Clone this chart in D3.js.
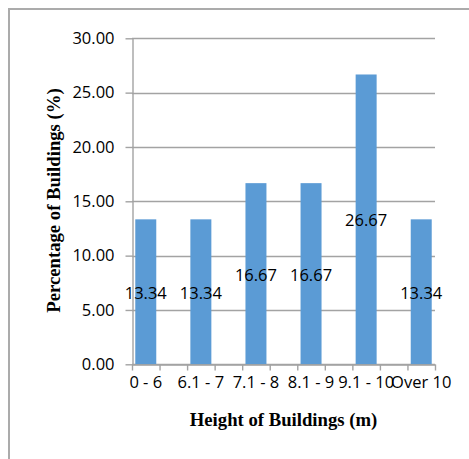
<!DOCTYPE html>
<meta charset="utf-8">
<style>
  body { margin: 0; background: #fff; }
  svg { display: block; }
</style>
<svg width="469" height="459"></svg>
<script src="https://d3js.org/d3.v7.min.js"></script>
<script>
    // values
    var categories = ["0 - 6", "6.1 - 7", "7.1 - 8", "8.1 - 9", "9.1 - 10", "Over 10"];
    var percentages = [13.34, 13.34, 16.67, 16.67, 26.67, 13.34];
    var yTicks = [0, 5, 10, 15, 20, 25, 30];

    var svg = d3.select("svg"),
        width = +svg.attr("width"),
        height = +svg.attr("height");

    var plotLeft = 132, plotRight = 435, plotTop = 38.3, plotBottom = 364.3;
    var labelFont = "'Open Sans', sans-serif";
    var titleFont = "'Liberation Serif', 'Times New Roman', serif";
    var lineGray = "#a3a3a3";

    // outer chart frame (right and bottom edges fall outside the window)
    svg.append("rect")
        .attr("x", 9).attr("y", 9)
        .attr("width", 600).attr("height", 600)
        .attr("fill", "none")
        .attr("stroke", "#ababab")
        .attr("stroke-width", 2);

    // every category has an empty slot after it, like the source sheet
    var slots = d3.range(categories.length * 2 - 1);
    var x = d3.scaleBand()
        .domain(slots)
        .range([plotLeft, plotRight])
        .paddingInner(0.238)
        .paddingOuter(0.119);
    var xTicks = d3.scaleLinear()
        .domain([0, slots.length])
        .range([plotLeft, plotRight]);
    var y = d3.scaleLinear()
        .domain([0, 30])
        .range([plotBottom, plotTop]);

    // gridlines
    svg.append("g")
        .selectAll("line")
        .data(yTicks)
        .enter().append("line")
        .attr("x1", plotLeft).attr("x2", plotRight)
        .attr("y1", function(d) { return Math.round(y(d)) + 0.5; })
        .attr("y2", function(d) { return Math.round(y(d)) + 0.5; })
        .attr("stroke", lineGray)
        .attr("stroke-width", 1.4);

    // y axis
    var yAxis = svg.append("g")
        .attr("transform", "translate(" + (plotLeft + 0.5) + ",0)")
        .call(d3.axisLeft(y)
            .tickValues(yTicks)
            .tickFormat(d3.format(".2f"))
            .tickSizeInner(7)
            .tickSizeOuter(0)
            .tickPadding(11));
    yAxis.selectAll("path, line").attr("stroke", lineGray).attr("stroke-width", 1.4);
    yAxis.selectAll("text")
        .attr("fill", "#000")
        .style("font-family", labelFont)
        .style("font-size", "16.5px");

    // bars
    svg.append("g")
        .selectAll("rect")
        .data(percentages)
        .enter().append("rect")
        .attr("x", function(d, i) { return x(i * 2); })
        .attr("y", function(d) { return y(d); })
        .attr("width", x.bandwidth())
        .attr("height", function(d) { return y(0) - y(d); })
        .attr("fill", "#5b9bd5");

    // x axis (ticks at every slot boundary)
    var xAxis = svg.append("g")
        .attr("transform", "translate(0," + (Math.round(plotBottom) + 0.5) + ")")
        .call(d3.axisBottom(xTicks)
            .tickValues(d3.range(slots.length + 1))
            .tickFormat("")
            .tickSizeInner(6)
            .tickSizeOuter(0));
    xAxis.selectAll("path, line").attr("stroke", lineGray).attr("stroke-width", 1.4);

    // category labels
    svg.append("g")
        .selectAll("text")
        .data(categories)
        .enter().append("text")
        .attr("x", function(d, i) { return x(i * 2) + x.bandwidth() / 2; })
        .attr("y", 388)
        .attr("text-anchor", "middle")
        .style("font-family", labelFont)
        .style("font-size", "16.5px")
        .text(function(d) { return d; });

    // value labels, centred in each bar
    svg.append("g")
        .selectAll("text")
        .data(percentages)
        .enter().append("text")
        .attr("x", function(d, i) { return x(i * 2) + x.bandwidth() / 2; })
        .attr("y", function(d) { return y(d / 2) + 7; })
        .attr("text-anchor", "middle")
        .style("font-family", labelFont)
        .style("font-size", "16.5px")
        .text(function(d) { return d3.format(".2f")(d); });

    // axis titles
    svg.append("text")
        .attr("x", 283.5)
        .attr("y", 426)
        .attr("text-anchor", "middle")
        .style("font-family", titleFont)
        .style("font-weight", "bold")
        .style("font-size", "18.7px")
        .text("Height of Buildings (m)");

    svg.append("text")
        .attr("transform", "translate(59.5,200.5) rotate(-90)")
        .attr("text-anchor", "middle")
        .style("font-family", titleFont)
        .style("font-weight", "bold")
        .style("font-size", "18.7px")
        .text("Percentage of Buildings (%)");
</script>
